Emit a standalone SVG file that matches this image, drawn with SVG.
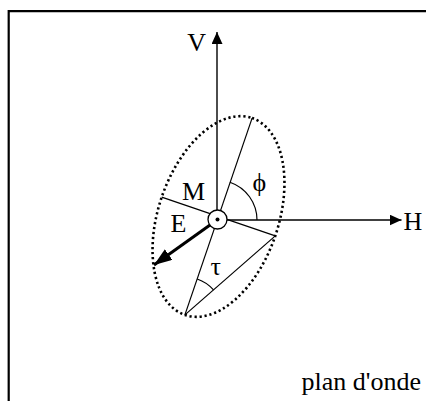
<svg xmlns="http://www.w3.org/2000/svg" width="426" height="401" viewBox="0 0 426 401">
<style>
.ln{stroke:#000;stroke-width:1.2;fill:none}
.ax{stroke:#000;stroke-width:1.4;fill:none}
.lbl{font-family:"Liberation Serif","Times New Roman",serif;font-size:26px;fill:#000}
</style>
<defs>
<marker id="ah" markerUnits="userSpaceOnUse" markerWidth="13" markerHeight="11" refX="12" refY="5.5" orient="auto">
<path d="M0,0 L12,5.5 L0,11 z" fill="#000"/>
</marker>
<marker id="ahE" markerUnits="userSpaceOnUse" markerWidth="19" markerHeight="13" refX="18" refY="6.5" orient="auto">
<path d="M0,0 L18,6.5 L0,13 z" fill="#000"/>
</marker>
</defs>
<rect width="426" height="401" fill="#fff"/>
<path id="frame" d="M8.7,402 V11.2 H428" fill="none" stroke="#000" stroke-width="2.2"/>
<g id="ellipse">
<ellipse cx="0" cy="0" rx="104" ry="60" transform="translate(218.5,216.5) rotate(-71.2)" fill="none" stroke="#000" stroke-width="2.6" stroke-dasharray="2.2 2.8"/>
</g>
<g id="connectors">
<line class="ax" x1="217" y1="220" x2="217" y2="32" marker-end="url(#ah)"/>
<line class="ax" x1="217" y1="220" x2="401.5" y2="220" marker-end="url(#ah)"/>
<line class="ln" x1="184.9" y1="314.9" x2="252.1" y2="118.1"/>
<line class="ln" x1="161.7" y1="197.1" x2="275.3" y2="235.9"/>
<line class="ln" x1="184.9" y1="314.9" x2="275.3" y2="235.9"/>
<line x1="217" y1="220" x2="154" y2="265" stroke="#000" stroke-width="3" marker-end="url(#ahE)"/>
<path class="ln" d="M257,220 A40,40 0 0 0 229.9,182.2"/>
<path class="ln" d="M197.2,279 A38,38 0 0 1 213.5,289.9"/>
</g>
<g id="center">
<circle cx="217.5" cy="219.5" r="9.5" fill="#fff" stroke="#000" stroke-width="1.3"/>
<circle cx="217.5" cy="219.5" r="2" fill="#000"/>
</g>
<g id="labels">
<text class="lbl" x="187.3" y="50.5">V</text>
<text class="lbl" x="403.5" y="230">H</text>
<text class="lbl" x="182" y="200">M</text>
<text class="lbl" x="170.5" y="232">E</text>
<text class="lbl" x="252.5" y="191">ϕ</text>
<text class="lbl" x="210.5" y="275">τ</text>
<text class="lbl" x="301.5" y="390">plan d'onde</text>
</g>
</svg>
